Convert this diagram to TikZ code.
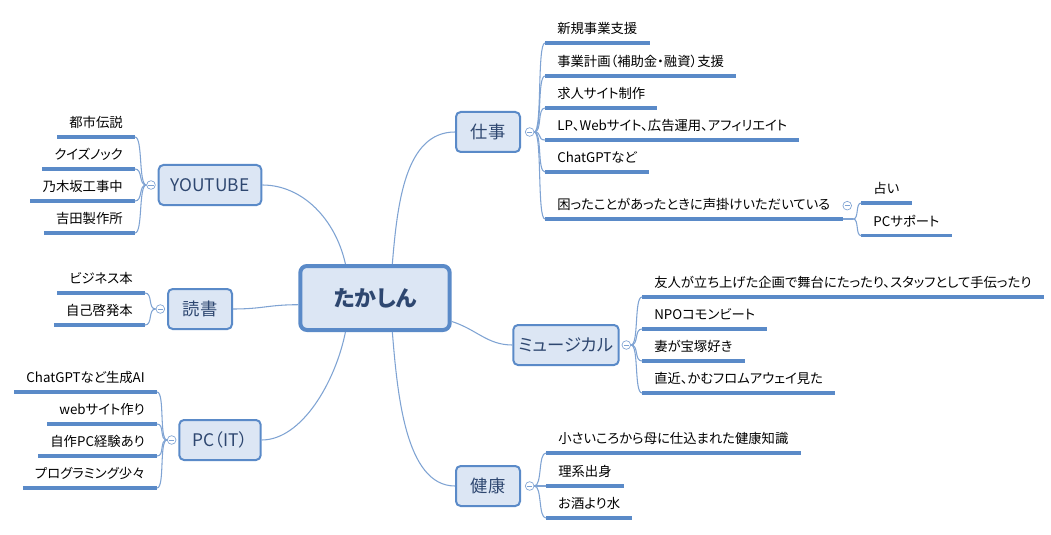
\documentclass[tikz,border=0pt]{standalone}
\usepackage{fontspec}
\setmainfont{Noto Sans CJK JP}[RawFeature=+palt]
\usepackage{tikz}
\usetikzlibrary{positioning}
\definecolor{boxfill}{HTML}{DCE6F4}
\definecolor{boxline}{HTML}{5A8AC8}
\definecolor{linkline}{HTML}{7FA3D3}
\definecolor{boxtext}{HTML}{2E4770}

\begin{document}
\begin{tikzpicture}[x=0.75pt,y=-0.75pt,
  root/.style={draw=boxline,line width=3pt,fill=boxfill,rounded corners=5pt,minimum width=112pt,minimum height=48pt,text=boxtext,font=\fontsize{16.5}{19}\selectfont\bfseries},
  topic/.style={draw=boxline,line width=1.5pt,fill=boxfill,rounded corners=3.5pt,minimum height=30pt,text=boxtext,font=\fontsize{13}{15}\selectfont},
  leaf/.style={inner xsep=9pt,inner ysep=5pt,text height=8pt,text depth=2pt,font=\fontsize{10}{12}\selectfont,
    append after command={(\tikzlastnode.south west) edge[leafline] (\tikzlastnode.south east)}},
  leafline/.style={draw=boxline,line width=2.3pt},
  link/.style={draw=linkline,line width=0.8pt},
  fold/.style={circle,draw=linkline,fill=white,inner sep=0pt,minimum size=6.5pt,line width=0.5pt,
    path picture={\draw[linkline,line width=0.5pt] ([xshift=-1.9pt]path picture bounding box.center) -- ([xshift=1.9pt]path picture bounding box.center);}},
]
\useasboundingbox (0,0) rectangle (1051,535);

% centre and main topics
\node[root] (takashin) at (375,298) {たかしん};
\node[topic,minimum width=48pt] (shigoto) at (488,132) {仕事};
\node[topic,minimum width=79pt] (musical) at (566,345) {ミュージカル};
\node[topic,minimum width=48pt] (kenko) at (488,486) {健康};
\node[topic,minimum width=77pt] (youtube) at (210,185) {YOUTUBE};
\node[topic,minimum width=48pt] (dokusho) at (200,309) {読書};
\node[topic,minimum width=61pt] (pcit) at (220,440) {PC（IT）};

\draw[link] (takashin.63) .. controls +(5,-60) and +(-50,0) .. (shigoto.west);
\draw[link] (takashin.131) .. controls +(-10,-45) and +(40,0) .. (youtube.east);
\draw[link] (takashin.185) .. controls +(-30,0) and +(30,0) .. (dokusho.east);
\draw[link] (takashin.229) .. controls +(-10,50) and +(40,0) .. (pcit.east);
\draw[link] (takashin.297) .. controls +(5,60) and +(-50,0) .. (kenko.west);
\draw[link] (takashin.343) .. controls +(25,8) and +(-25,0) .. (musical.west);

% 仕事
\node[fold,right=3pt of shigoto] (fshigoto) {};
\node[leaf,anchor=south west] (s1) at (545,43) {新規事業支援};
\node[leaf,anchor=south west] (s2) at (545,76) {事業計画（補助金・融資）支援};
\node[leaf,anchor=south west] (s3) at (545,108) {求人サイト制作};
\node[leaf,anchor=south west] (s4) at (545,140) {LP、Webサイト、広告運用、アフィリエイト};
\node[leaf,anchor=south west] (s5) at (545,172) {ChatGPTなど};
\node[leaf,anchor=south west] (s6) at (545,219) {困ったことがあったときに声掛けいただいている};
\foreach \w in {s1,s2,s3,s4,s5,s6}
  \draw[link] (fshigoto.east) .. controls +(8,0) and +(-8,0) .. (\w.south west);

\coordinate (jsub) at ([xshift=8pt]s6.south east);
\node[fold] (fsub) at ([xshift=-4.5pt,yshift=10pt]jsub) {};
\node[leaf,anchor=south west] (t1) at ([xshift=6pt,yshift=12pt]jsub) {占い};
\node[leaf,anchor=south west] (t2) at ([xshift=6pt,yshift=-12.5pt]jsub) {PCサポート};
\draw[link] (s6.south east) -- (jsub);
\foreach \w in {t1,t2}
  \draw[link] (jsub) .. controls +(6,0) and +(-6,0) .. (\w.south west);

% ミュージカル
\node[fold,right=1.5pt of musical] (fmusical) {};
\node[leaf,anchor=south west] (m1) at (642,297) {友人が立ち上げた企画で舞台にたったり、スタッフとして手伝ったり};
\node[leaf,anchor=south west] (m2) at (642,329) {NPOコモンビート};
\node[leaf,anchor=south west] (m3) at (642,361) {妻が宝塚好き};
\node[leaf,anchor=south west] (m4) at (642,393) {直近、かむフロムアウェイ見た};
\foreach \w in {m1,m2,m3,m4}
  \draw[link] (fmusical.east) .. controls +(8,0) and +(-8,0) .. (\w.south west);

% 健康
\node[fold,right=3pt of kenko] (fkenko) {};
\node[leaf,anchor=south west] (k1) at (546,453) {小さいころから母に仕込まれた健康知識};
\node[leaf,anchor=south west] (k2) at (546,486) {理系出身};
\node[leaf,anchor=south west] (k3) at (546,518) {お酒より水};
\foreach \w in {k1,k2,k3}
  \draw[link] (fkenko.east) .. controls +(8,0) and +(-8,0) .. (\w.south west);

% YOUTUBE
\node[fold,left=1.5pt of youtube] (fyoutube) {};
\node[leaf,anchor=south east] (y1) at (135,137) {都市伝説};
\node[leaf,anchor=south east] (y2) at (135,169) {クイズノック};
\node[leaf,anchor=south east] (y3) at (135,201) {乃木坂工事中};
\node[leaf,anchor=south east] (y4) at (135,233) {吉田製作所};
\foreach \w in {y1,y2,y3,y4}
  \draw[link] (fyoutube.west) .. controls +(-8,0) and +(8,0) .. (\w.south east);

% 読書
\node[fold,left=1.5pt of dokusho] (fdokusho) {};
\node[leaf,anchor=south east] (d1) at (145,293) {ビジネス本};
\node[leaf,anchor=south east] (d2) at (145,325) {自己啓発本};
\foreach \w in {d1,d2}
  \draw[link] (fdokusho.west) .. controls +(-8,0) and +(8,0) .. (\w.south east);

% PC（IT）
\node[fold,left=1.5pt of pcit] (fpcit) {};
\node[leaf,anchor=south east] (p1) at (157,392) {ChatGPTなど生成AI};
\node[leaf,anchor=south east] (p2) at (157,424) {webサイト作り};
\node[leaf,anchor=south east] (p3) at (157,456) {自作PC経験あり};
\node[leaf,anchor=south east] (p4) at (157,488) {プログラミング少々};
\foreach \w in {p1,p2,p3,p4}
  \draw[link] (fpcit.west) .. controls +(-8,0) and +(8,0) .. (\w.south east);
\end{tikzpicture}
\end{document}
